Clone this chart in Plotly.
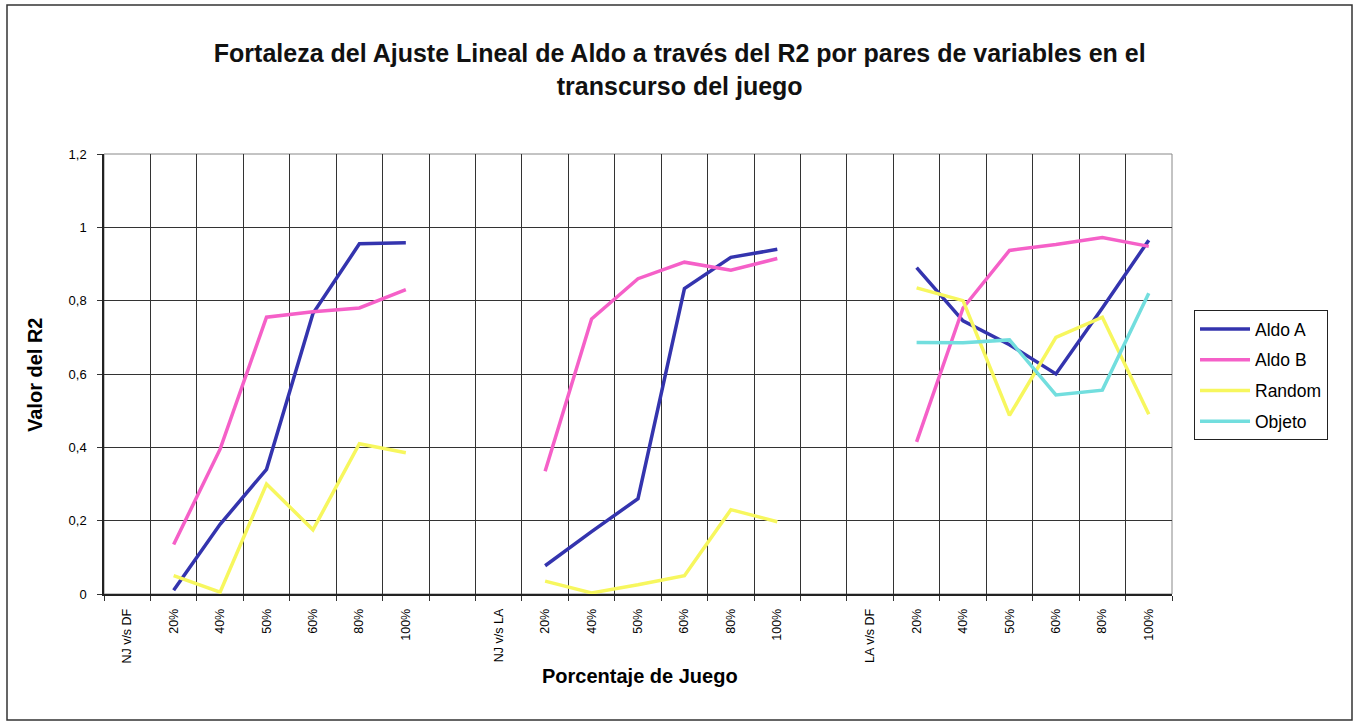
import plotly.graph_objects as go

# Category axis: three comparisons, each followed by game-percentage checkpoints
categories = [
    "NJ v/s DF", "20%", "40%", "50%", "60%", "80%", "100%", "",
    "NJ v/s LA", "20%", "40%", "50%", "60%", "80%", "100%", "",
    "LA v/s DF", "20%", "40%", "50%", "60%", "80%", "100%",
]

aldo_a = [None, 0.01, 0.19, 0.34, 0.765, 0.955, 0.958, None,
          None, 0.077, 0.17, 0.26, 0.833, 0.918, 0.94, None,
          None, 0.89, 0.745, 0.68, 0.60, 0.78, 0.965]
aldo_b = [None, 0.135, 0.395, 0.755, 0.77, 0.78, 0.83, None,
          None, 0.335, 0.75, 0.86, 0.905, 0.883, 0.915, None,
          None, 0.415, 0.78, 0.937, 0.953, 0.972, 0.948]
random_s = [None, 0.05, 0.005, 0.30, 0.175, 0.41, 0.385, None,
            None, 0.035, 0.003, 0.025, 0.05, 0.23, 0.197, None,
            None, 0.835, 0.80, 0.487, 0.70, 0.755, 0.49]
objeto = [None, None, None, None, None, None, None, None,
          None, None, None, None, None, None, None, None,
          None, 0.686, 0.685, 0.693, 0.543, 0.556, 0.82]

series = [
    ("Aldo A", aldo_a, "#3434AE"),
    ("Aldo B", aldo_b, "#F560C8"),
    ("Random", random_s, "#F7F75E"),
    ("Objeto", objeto, "#72DEDE"),
]

FONT = "Arial, Liberation Sans, sans-serif"
xpos = list(range(len(categories)))

fig = go.Figure()
for name, vals, color in series:
    fig.add_trace(go.Scatter(
        x=xpos, y=vals, name=name, mode="lines",
        line=dict(color=color, width=3.5),
        connectgaps=False, legendgroup=name,
    ))

n = len(categories)
boundaries = [i - 0.5 for i in range(n + 1)]

fig.update_layout(
    width=1354, height=723,
    margin=dict(l=104, r=182, t=154, b=129),
    paper_bgcolor="white", plot_bgcolor="white",
    font=dict(family=FONT, color="black"),
    separators=", ",
    title=dict(
        text="<b>Fortaleza del Ajuste Lineal de Aldo a través del R2 por pares de variables en el<br>transcurso del juego</b>",
        font=dict(size=25, family=FONT, color="#111"),
        x=0.502, xanchor="center", y=(723 - 62) / 723, yanchor="middle",
    ),
    xaxis=dict(
        range=[-0.5, n - 0.5],
        tickmode="array", tickvals=xpos, ticktext=categories,
        tickangle=-90, tickfont=dict(size=12.5, family=FONT),
        ticks="", showgrid=False, zeroline=False,
        ticklabelstandoff=8,
        showline=True, linecolor="#222", linewidth=1.5,
        minor=dict(tickvals=boundaries, showgrid=True, gridcolor="#333",
                   gridwidth=1, ticks="outside", ticklen=5, tickcolor="#333"),
    ),
    yaxis=dict(
        range=[0, 1.2], tick0=0, dtick=0.2,
        tickfont=dict(size=13, family=FONT),
        ticks="outside", ticklen=5, tickcolor="#333",
        ticklabelstandoff=8,
        showgrid=True, gridcolor="#333", gridwidth=1,
        zeroline=False, showline=True, linecolor="#222", linewidth=1.5,
    ),
    legend=dict(
        x=(1194 - 104) / 1068, y=(594 - 310) / 440, xanchor="left", yanchor="top",
        bgcolor="white", bordercolor="#222", borderwidth=1,
        font=dict(size=17.5, family=FONT),
        itemwidth=50, tracegroupgap=5,
    ),
    showlegend=True,
)

# Axis titles
fig.add_annotation(text="<b>Valor del R2</b>", xref="paper", yref="paper",
                   x=(35 - 104) / 1068, y=(594 - 375) / 440,
                   xanchor="center", yanchor="middle",
                   textangle=-90, showarrow=False,
                   font=dict(size=20, family=FONT))
fig.add_annotation(text="<b>Porcentaje de Juego</b>", xref="paper", yref="paper",
                   x=(640 - 104) / 1068, y=(594 - 676) / 440,
                   xanchor="center", yanchor="middle", showarrow=False,
                   font=dict(size=20, family=FONT))

# Plot-area frame (top/right) and outer chart border
fig.add_shape(type="rect", xref="paper", yref="paper", x0=0, x1=1, y0=0, y1=1,
              line=dict(color="#888", width=1), layer="below")
fig.add_shape(type="rect", xref="paper", yref="paper",
              x0=(7 - 104) / 1068, x1=(1352 - 104) / 1068,
              y0=(594 - 720) / 440, y1=(594 - 5) / 440,
              line=dict(color="#333", width=1.5))

fig.write_html("out.html")
